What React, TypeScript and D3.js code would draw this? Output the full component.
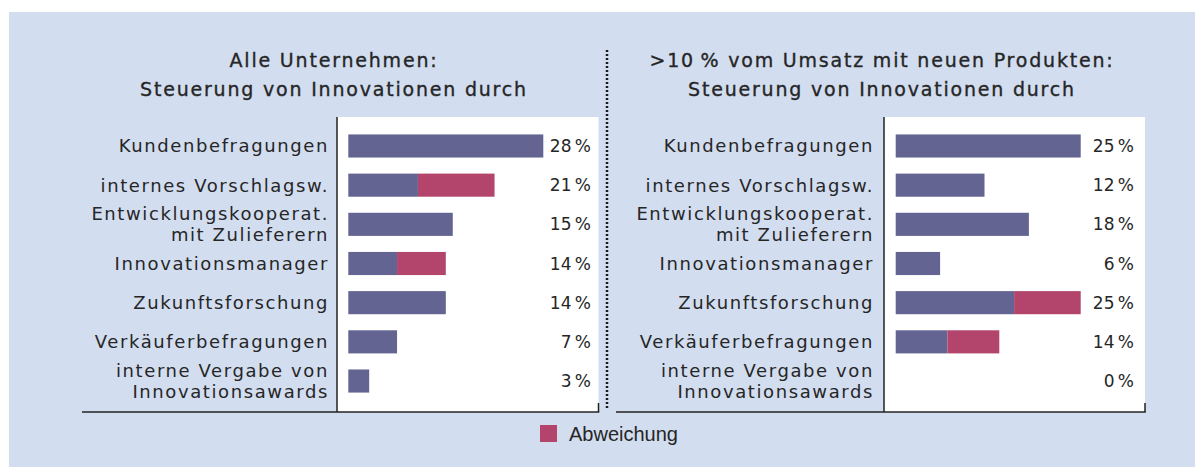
import React, { useEffect, useRef } from 'react';
import * as d3 from 'd3';

const categories = [
  'Kundenbefragungen',
  'internes Vorschlagsw.',
  'Entwicklungskooperat.\nmit Zulieferern',
  'Innovationsmanager',
  'Zukunftsforschung',
  'Verkäuferbefragungen',
  'interne Vergabe von\nInnovationsawards',
];

// Alle Unternehmen
const allBase = [28, 10, 15, 7, 14, 7, 3];
const allDev = [0, 11, 0, 7, 0, 0, 0];
const allLabels = ['28', '21', '15', '14', '14', '7', '3'];

// >10 % vom Umsatz mit neuen Produkten
const topBase = [25, 12, 18, 6, 16, 7, 0];
const topDev = [0, 0, 0, 0, 9, 7, 0];
const topLabels = ['25', '12', '18', '6', '25', '14', '0'];

const titlesLeft = ['Alle Unternehmen:', 'Steuerung von Innovationen durch'];
const titlesRight = ['>10\u2009% vom Umsatz mit neuen Produkten:', 'Steuerung von Innovationen durch'];
const legendLabel = 'Abweichung';

const W = 1195;
const H = 467;
const BG = '#d2ddf0';
const BLUE = '#636492';
const RED = '#b3446c';
const INK = '#262626';
const FONT = '"DejaVu Sans", sans-serif';

const App = () => {
  const ref = useRef<SVGSVGElement>(null);

  useEffect(() => {
    if (!ref.current) return;
    const svg = d3.select(ref.current);
    svg.selectAll('*').remove();

    svg.append('rect')
      .attr('x', 9).attr('y', 12)
      .attr('width', W - 9).attr('height', H - 12)
      .attr('fill', BG);

    const y = d3.scaleBand<string>()
      .domain(categories)
      .range([126.4, 400.6])
      .paddingInner(0.41)
      .paddingOuter(0.205);

    const panels = [
      { titles: titlesLeft, titleX: 334, labelX: 329, axisX: 337, plotR: 598.5, lineL: 82,
        x: d3.scaleLinear().domain([0, 28]).range([348.3, 543.3]), base: allBase, dev: allDev, vals: allLabels, valX: 591 },
      { titles: titlesRight, titleX: 882, labelX: 874, axisX: 884, plotR: 1145, lineL: 616,
        x: d3.scaleLinear().domain([0, 25]).range([895.7, 1080.7]), base: topBase, dev: topDev, vals: topLabels, valX: 1134 },
    ];

    panels.forEach(p => {
      const g = svg.append('g');

      // titles
      g.selectAll('text.title')
        .data(p.titles)
        .enter().append('text')
        .attr('class', 'title')
        .attr('x', p.titleX)
        .attr('y', (d, i) => 67 + i * 29)
        .attr('text-anchor', 'middle')
        .attr('font-family', FONT)
        .attr('font-size', 19)
        .attr('letter-spacing', 1.8)
        .attr('fill', INK)
        .attr('stroke', INK)
        .attr('stroke-width', 0.35)
        .text(d => d);

      // white plot area
      g.append('rect')
        .attr('x', p.axisX).attr('y', 117)
        .attr('width', p.plotR - p.axisX).attr('height', 412 - 117)
        .attr('fill', '#fff');

      // bars: base
      g.selectAll('rect.base')
        .data(p.base)
        .enter().append('rect')
        .attr('class', 'base')
        .attr('x', p.x(0))
        .attr('y', (d, i) => y(categories[i])!)
        .attr('width', d => p.x(d) - p.x(0))
        .attr('height', y.bandwidth())
        .attr('fill', BLUE);

      // bars: Abweichung
      g.selectAll('rect.dev')
        .data(p.dev)
        .enter().append('rect')
        .attr('class', 'dev')
        .attr('x', (d, i) => p.x(p.base[i]))
        .attr('y', (d, i) => y(categories[i])!)
        .attr('width', d => p.x(d) - p.x(0))
        .attr('height', y.bandwidth())
        .attr('fill', RED);

      // value labels
      g.selectAll('text.val')
        .data(p.vals)
        .enter().append('text')
        .attr('class', 'val')
        .attr('x', p.valX)
        .attr('y', (d, i) => y(categories[i])! + y.bandwidth() / 2)
        .attr('dy', '0.36em')
        .attr('text-anchor', 'end')
        .attr('font-family', FONT)
        .attr('font-size', 17)
        .attr('fill', INK)
        .text(d => d + '\u2009%');

      // category labels (some two-line)
      categories.forEach(c => {
        const lines = c.split('\n');
        const cy = y(c)! + y.bandwidth() / 2;
        const t = g.append('text')
          .attr('text-anchor', 'end')
          .attr('font-family', FONT)
          .attr('font-size', 18)
          .attr('letter-spacing', 1.6)
          .attr('fill', INK);
        lines.forEach((ln, j) => {
          t.append('tspan')
            .attr('x', p.labelX)
            .attr('y', cy + (j - (lines.length - 1) / 2) * 21)
            .attr('dy', '0.36em')
            .text(ln);
        });
      });

      // axis lines
      g.append('line')
        .attr('x1', p.axisX).attr('x2', p.axisX)
        .attr('y1', 117).attr('y2', 412)
        .attr('stroke', '#222').attr('stroke-width', 1.5);
      g.append('line')
        .attr('x1', p.lineL).attr('x2', p.plotR + 0.75)
        .attr('y1', 412).attr('y2', 412)
        .attr('stroke', '#222').attr('stroke-width', 1.5);
      g.append('line')
        .attr('x1', p.plotR).attr('x2', p.plotR)
        .attr('y1', 403).attr('y2', 412)
        .attr('stroke', '#222').attr('stroke-width', 1.5);
    });

    // dotted divider
    svg.append('line')
      .attr('x1', 607).attr('x2', 607)
      .attr('y1', 50).attr('y2', 408)
      .attr('stroke', '#1a1a1a')
      .attr('stroke-width', 2.5)
      .attr('stroke-dasharray', '2,2');

    // legend
    svg.append('rect')
      .attr('x', 540).attr('y', 425)
      .attr('width', 17).attr('height', 17)
      .attr('fill', RED);
    svg.append('text')
      .attr('x', 569).attr('y', 434)
      .attr('dy', '0.36em')
      .attr('font-family', '"Liberation Sans Narrow", "Liberation Sans", sans-serif')
      .attr('font-size', 20)
      .attr('fill', INK)
      .text(legendLabel);
  }, []);

  return (
    <svg ref={ref} width={W} height={H}
      style={{ position: 'absolute', left: 0, top: 0, background: '#fff' }} />
  );
};

export default App;
